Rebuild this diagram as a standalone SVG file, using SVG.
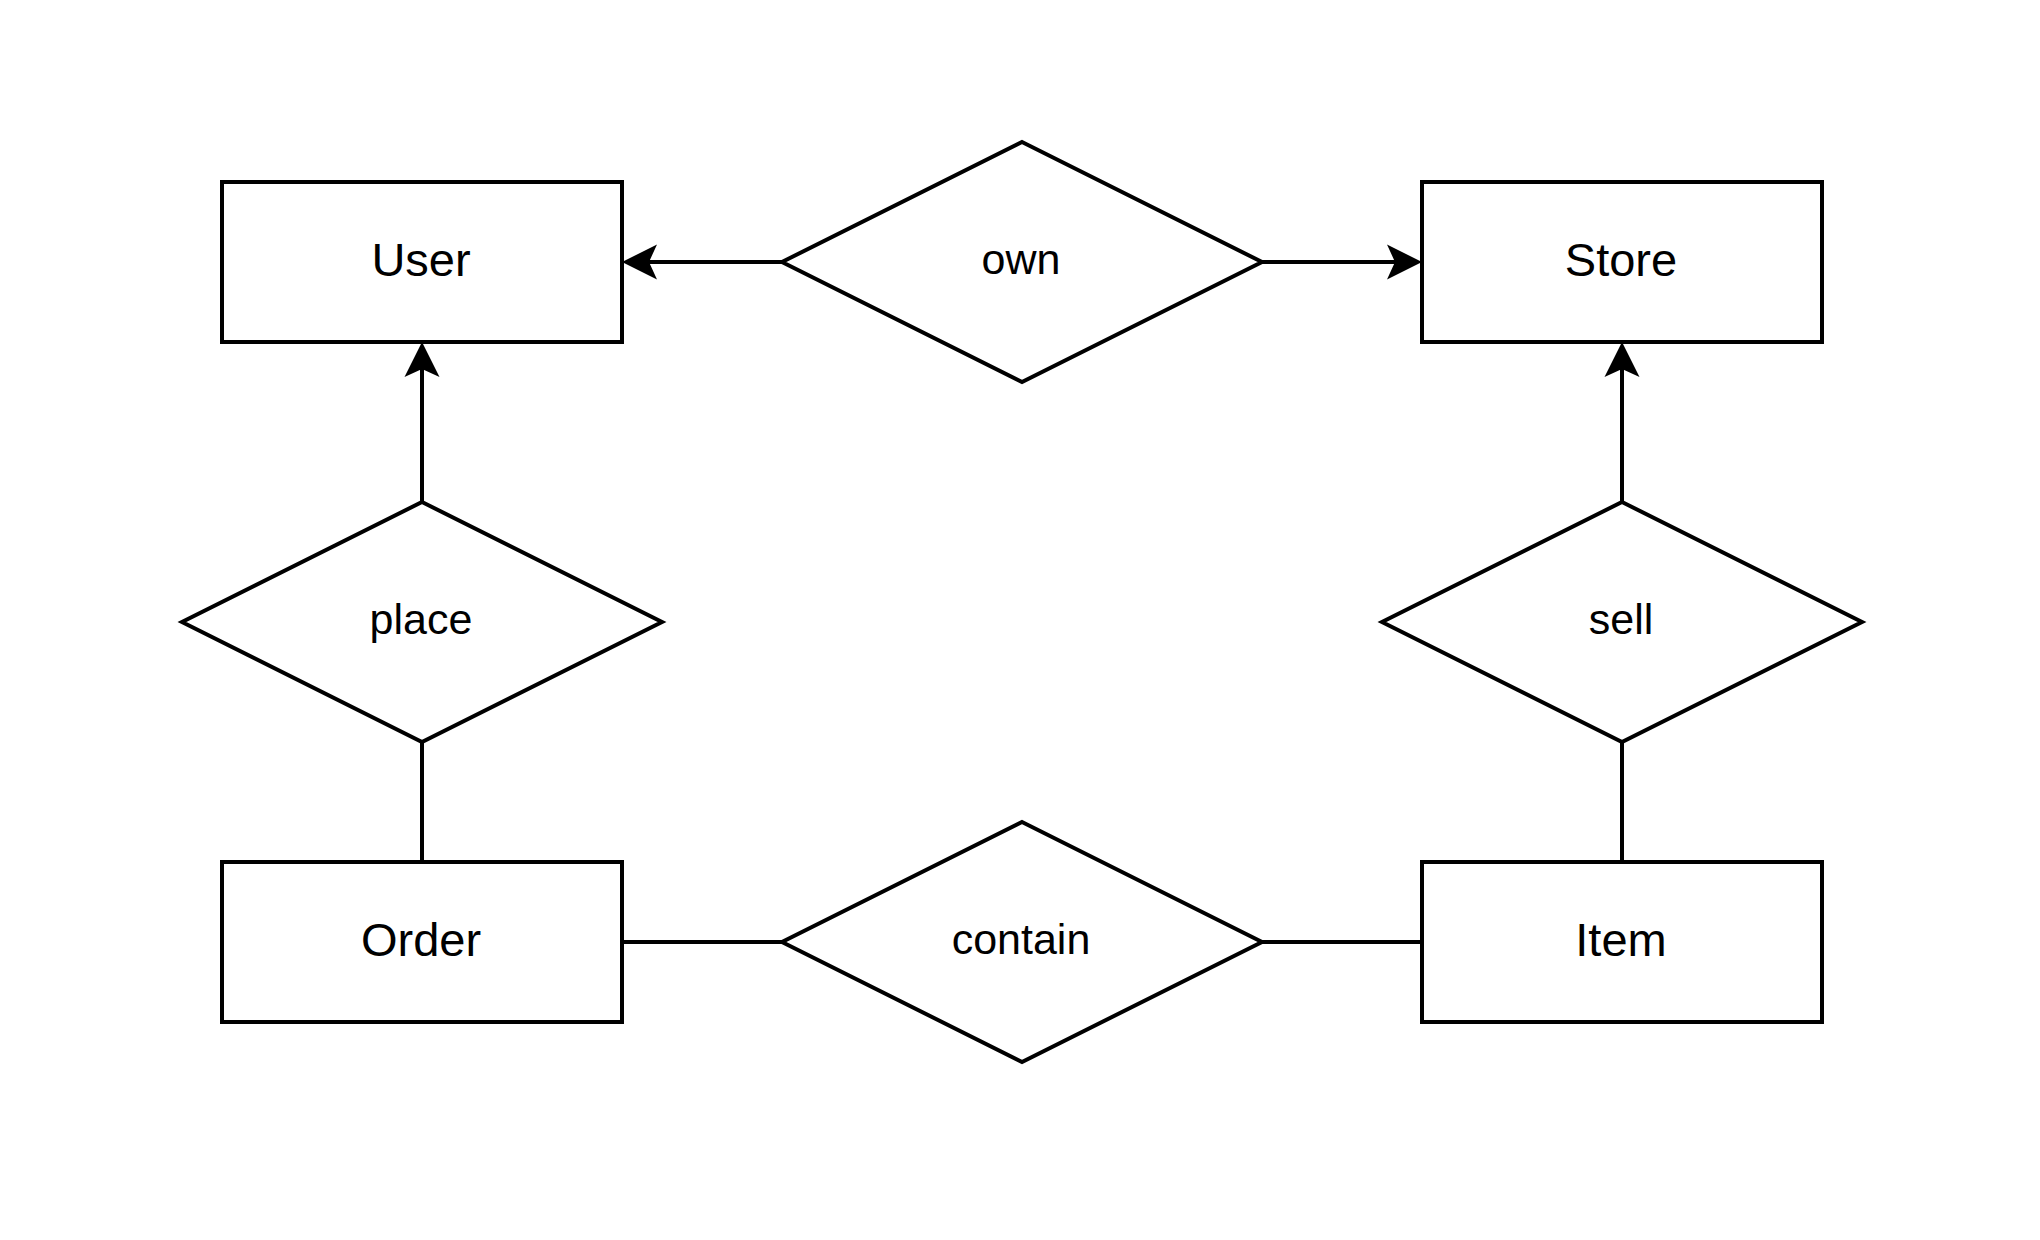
<svg xmlns="http://www.w3.org/2000/svg" width="2040" height="1240" viewBox="0 0 2040 1240">
  <style>
    .entity { fill: #ffffff; stroke: #000000; stroke-width: 4; }
    .rel { fill: #ffffff; stroke: #000000; stroke-width: 4; stroke-linejoin: miter; }
    .conn { fill: none; stroke: #000000; stroke-width: 4; }
    .etext { font-family: "Liberation Sans", Arial, Helvetica, sans-serif; font-size: 47px; fill: #000000; text-anchor: middle; }
    .rtext { font-family: "Liberation Sans", Arial, Helvetica, sans-serif; font-size: 43px; fill: #000000; text-anchor: middle; }
  </style>
  <defs>
    <marker id="arrow" markerUnits="userSpaceOnUse" markerWidth="40" markerHeight="40" refX="8" refY="20" orient="auto">
      <path d="M35,20 L0,2.5 L8,20 L0,37.5 Z" fill="#000000" stroke="none"/>
    </marker>
  </defs>
  <rect x="0" y="0" width="2040" height="1240" fill="#ffffff"/>

  <g id="connectors">
    <line class="conn" x1="782" y1="262" x2="649" y2="262" marker-end="url(#arrow)"/>
    <line class="conn" x1="1262" y1="262" x2="1395" y2="262" marker-end="url(#arrow)"/>
    <line class="conn" x1="422" y1="502" x2="422" y2="369" marker-end="url(#arrow)"/>
    <line class="conn" x1="1622" y1="502" x2="1622" y2="369" marker-end="url(#arrow)"/>
    <line class="conn" x1="422" y1="742" x2="422" y2="862"/>
    <line class="conn" x1="1622" y1="742" x2="1622" y2="862"/>
    <line class="conn" x1="622" y1="942" x2="782" y2="942"/>
    <line class="conn" x1="1262" y1="942" x2="1422" y2="942"/>
  </g>

  <g id="user">
    <rect class="entity" x="222" y="182" width="400" height="160"/>
    <text class="etext" x="421" y="276">User</text>
  </g>
  <g id="store">
    <rect class="entity" x="1422" y="182" width="400" height="160"/>
    <text class="etext" x="1621" y="276">Store</text>
  </g>
  <g id="order">
    <rect class="entity" x="222" y="862" width="400" height="160"/>
    <text class="etext" x="421" y="956">Order</text>
  </g>
  <g id="item">
    <rect class="entity" x="1422" y="862" width="400" height="160"/>
    <text class="etext" x="1621" y="956">Item</text>
  </g>
  <g id="own">
    <polygon class="rel" points="1022,142 1262,262 1022,382 782,262"/>
    <text class="rtext" x="1021" y="274">own</text>
  </g>
  <g id="place">
    <polygon class="rel" points="422,502 662,622 422,742 182,622"/>
    <text class="rtext" x="421" y="634">place</text>
  </g>
  <g id="sell">
    <polygon class="rel" points="1622,502 1862,622 1622,742 1382,622"/>
    <text class="rtext" x="1621" y="634">sell</text>
  </g>
  <g id="contain">
    <polygon class="rel" points="1022,822 1262,942 1022,1062 782,942"/>
    <text class="rtext" x="1021" y="954">contain</text>
  </g>
</svg>
